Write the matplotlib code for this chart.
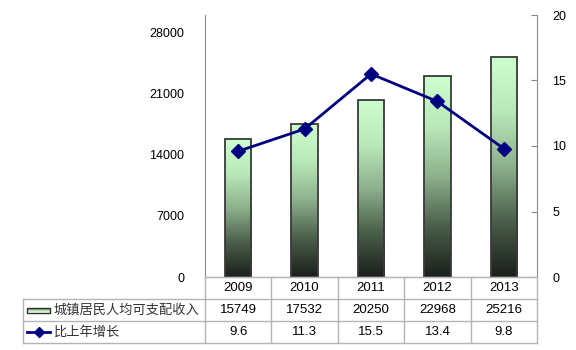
import numpy as np
import matplotlib.pyplot as plt
from matplotlib.colors import LinearSegmentedColormap
from matplotlib.patches import Rectangle
from matplotlib.lines import Line2D

plt.rcParams['font.family'] = ['Liberation Sans', 'Noto Sans CJK SC', 'DejaVu Sans']

# data
years = ['2009', '2010', '2011', '2012', '2013']
income = [15749, 17532, 20250, 22968, 25216]
growth = [9.6, 11.3, 15.5, 13.4, 9.8]
bar_label = '城镇居民人均可支配收入'
line_label = '比上年增长'
left_ticks = [0, 7000, 14000, 21000, 28000]
right_ticks = [0, 5, 10, 15, 20]

W, H = 576, 350
fig = plt.figure(figsize=(W / 100, H / 100), dpi=100)

# plot area in pixels
x0, x1, y_top, y_bot = 205, 537, 15, 277
ax = fig.add_axes([x0 / W, 1 - y_bot / H, (x1 - x0) / W, (y_bot - y_top) / H])
ax2 = ax.twinx()

grey = '#8c8c8c'
cmap = LinearSegmentedColormap.from_list(
    'g', [(0.0, '#1b1f1b'), (0.25, '#4a5e4a'), (0.5, '#8db08d'),
          (0.75, '#b9e8b9'), (1.0, '#cefdce')])
grad = np.linspace(0, 1, 256).reshape(-1, 1)

x = np.arange(len(years))
bars = ax.bar(x, income, width=0.4, facecolor='none', edgecolor='#3a3a3a',
              linewidth=1.3, zorder=3)
for b in bars:
    im = ax.imshow(grad, cmap=cmap, origin='lower', aspect='auto',
                   extent=[b.get_x(), b.get_x() + b.get_width(), 0, b.get_height()],
                   zorder=2)
    im.set_clip_path(b)

ax.set_xlim(-0.5, len(years) - 0.5)
ax.set_ylim(0, 30000)
ax.set_yticks(left_ticks)
ax.set_xticks([])
ax.tick_params(axis='y', length=0, pad=15, labelsize=9)
for s in ['top', 'right']:
    ax.spines[s].set_visible(False)
ax.spines['left'].set_color(grey)
ax.spines['bottom'].set_color(grey)

ax2.plot(x, growth, color='#000080', lw=2, marker='D', ms=7, zorder=5)
ax2.set_ylim(0, 20)
ax2.set_yticks(right_ticks)
ax2.tick_params(axis='y', direction='in', length=4, color=grey, pad=11, labelsize=9)
for s in ['top', 'left', 'bottom']:
    ax2.spines[s].set_visible(False)
ax2.spines['right'].set_color(grey)

# data table below the plot
tb = fig.add_axes([0, 0, 1, 1])
tb.set_xlim(0, W)
tb.set_ylim(H, 0)
tb.axis('off')
tb.patch.set_alpha(0)

tcol = '#b4b4b4'
t_left = 23
rows = [277, 299, 321, 343]
edges = np.linspace(x0, x1, len(years) + 1)
centers = (edges[:-1] + edges[1:]) / 2

tb.add_line(Line2D([x0, x1], [rows[0], rows[0]], color=tcol, lw=1))
for r in rows[1:]:
    tb.add_line(Line2D([t_left, x1], [r, r], color=tcol, lw=1))
tb.add_line(Line2D([t_left, t_left], [rows[1], rows[3]], color=tcol, lw=1))
for e in edges:
    tb.add_line(Line2D([e, e], [rows[0], rows[3]], color=tcol, lw=1))

fs = 9.5
for i, c in enumerate(centers):
    tb.text(c, (rows[0] + rows[1]) / 2, years[i], ha='center', va='center', fontsize=fs)
    tb.text(c, (rows[1] + rows[2]) / 2, str(income[i]), ha='center', va='center', fontsize=fs)
    tb.text(c, (rows[2] + rows[3]) / 2, str(growth[i]), ha='center', va='center', fontsize=fs)

# legend keys
ym = (rows[1] + rows[2]) / 2
key = Rectangle((27, ym - 2.5), 23, 5, facecolor='none', edgecolor='#2e2e2e', lw=1, zorder=3)
tb.add_patch(key)
kim = tb.imshow(grad, cmap=cmap, origin='upper', aspect='auto',
                extent=[27, 50, ym + 2.5, ym - 2.5], zorder=2)
kim.set_clip_path(key)
tb.set_xlim(0, W)
tb.set_ylim(H, 0)
tb.text(54, ym, bar_label, ha='left', va='center', fontsize=fs,
        family=['Noto Sans CJK SC', 'DejaVu Sans'], color='#333333')

yl = (rows[2] + rows[3]) / 2
tb.plot([27, 50], [yl, yl], color='#000080', lw=2)
tb.plot([38.5], [yl], color='#000080', marker='D', ms=5)
tb.text(54, yl, line_label, ha='left', va='center', fontsize=fs,
        family=['Noto Sans CJK SC', 'DejaVu Sans'], color='#333333')

fig.savefig('out.png', dpi=100)
